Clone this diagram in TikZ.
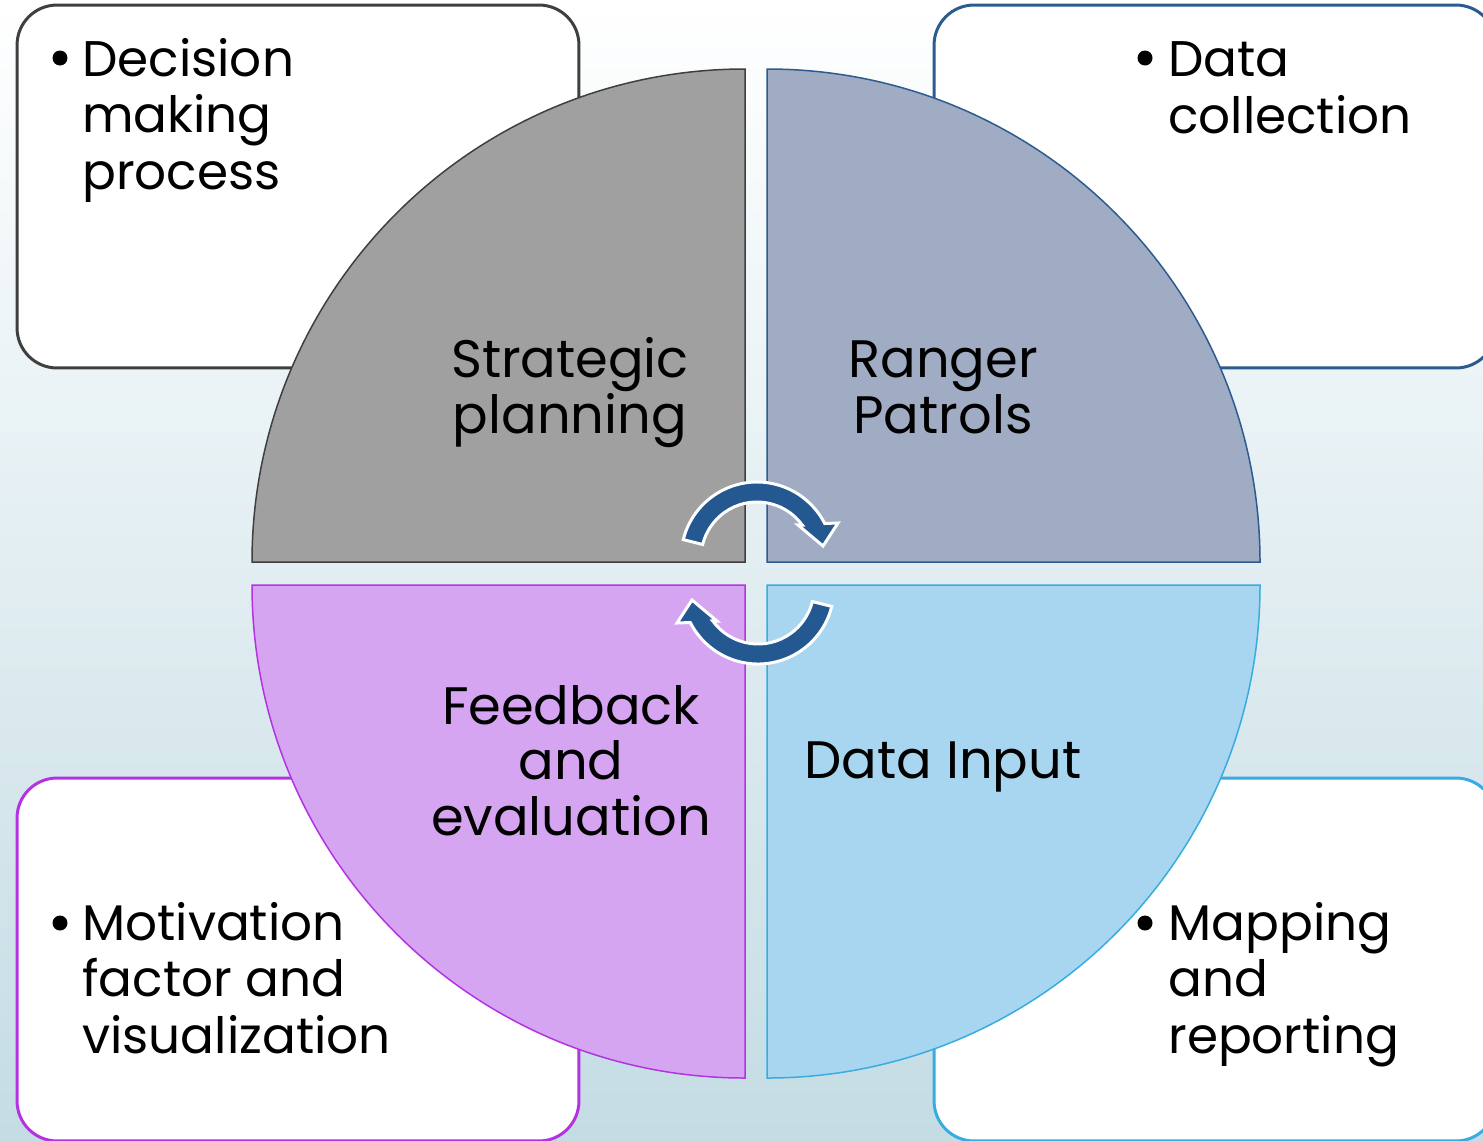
\documentclass[tikz,border=0pt]{standalone}
\usepackage{fontspec}
\setmainfont{Poppins}
\definecolor{bgbot}{RGB}{196,220,228}
\definecolor{tlfill}{RGB}{160,160,160}
\definecolor{tlline}{RGB}{63,63,63}
\definecolor{trfill}{RGB}{160,171,196}
\definecolor{trline}{RGB}{44,91,143}
\definecolor{blfill}{RGB}{214,165,242}
\definecolor{blline}{RGB}{180,50,225}
\definecolor{brfill}{RGB}{168,214,240}
\definecolor{brline}{RGB}{56,172,224}
\definecolor{arrowc}{RGB}{36,88,145}
\tikzset{
  box/.style={draw, fill=white, line width=1.7pt, rounded corners=0.8cm,
    minimum width=11.24cm, minimum height=7.26cm, inner sep=0pt},
  sector/.style={line width=0.85pt},
  lbl/.style={font=\fontsize{30}{31.5}\selectfont, align=center, inner sep=0pt, text=black},
  itemtext/.style={font=\fontsize{28.5}{32}\selectfont, align=left, inner sep=0pt, anchor=base west, text=black},
  bullet/.style={circle, fill=black, inner sep=0pt, minimum size=0.3cm},
  cyc/.style={fill=arrowc, draw=white, line width=1.7pt, line join=miter},
}
\begin{document}
\begin{tikzpicture}[x=0.02cm, y=0.02cm]
\useasboundingbox (0,0) rectangle (1483,-1140);
\clip (0,0) rectangle (1483,-1140);
\shade[top color=white, bottom color=bgbot] (0,0) rectangle (1483,-1140);
\draw[white, line width=0.5pt, opacity=0.8] (0,-44) -- (17,-25);
% corner boxes
\node[box, draw=tlline] (boxtl) at (298,-186.5) {};
\node[box, draw=trline] (boxtr) at (1215,-186.5) {};
\node[box, draw=blline] (boxbl) at (298,-959.5) {};
\node[box, draw=brline] (boxbr) at (1215,-959.5) {};
% sectors
\filldraw[sector, fill=tlfill, draw=tlline] (745,-562) -- (252,-562) arc[start angle=180, end angle=90, radius=493] -- cycle;
\filldraw[sector, fill=trfill, draw=trline] (767,-562) -- (767,-69) arc[start angle=90, end angle=0, radius=493] -- cycle;
\filldraw[sector, fill=blfill, draw=blline] (745,-585) -- (252,-585) arc[start angle=180, end angle=270, radius=493] -- cycle;
\filldraw[sector, fill=brfill, draw=brline] (767,-585) -- (1260,-585) arc[start angle=0, end angle=-90, radius=493] -- cycle;
% cycle arrows
\filldraw[cyc] (757,-558) ++(166:76) arc[start angle=166, end angle=27, radius=76]
  -- (838,-523) -- (823,-546) -- (798,-525) -- ([shift={(36:56)}]757,-558)
  arc[start angle=36, end angle=166, radius=56] -- cycle;
\filldraw[cyc, rotate around={180:(757.5,-573)}] (757,-558) ++(166:76) arc[start angle=166, end angle=27, radius=76]
  -- (838,-523) -- (823,-546) -- (798,-525) -- ([shift={(36:56)}]757,-558)
  arc[start angle=36, end angle=166, radius=56] -- cycle;
% sector labels (anchor = baseline of last line)
\node[lbl, anchor=base] (sp) at (570,-433) {Strategic\\planning};
\node[lbl, anchor=base] (rp) at (943,-433) {Ranger\\Patrols};
\node[lbl, anchor=base] (fe) at (571,-835) {Feedback\\and\\evaluation};
\node[lbl, anchor=base] (di) at (943,-778) {Data Input};
% box texts
\node[bullet] (btl) at (60,-58) {};
\node[itemtext] (ttl) at (82,-189) {Decision\\making\\process};
\node[bullet] (btr) at (1145,-58) {};
\node[itemtext] (ttr) at (1168,-133) {Data\\collection};
\node[bullet] (bbl) at (60,-923) {};
\node[itemtext] (tbl) at (82,-1053) {Motivation\\factor and\\visualization};
\node[bullet] (bbr) at (1145,-923) {};
\node[itemtext] (tbr) at (1168,-1053) {Mapping\\and\\reporting};
\end{tikzpicture}
\end{document}
